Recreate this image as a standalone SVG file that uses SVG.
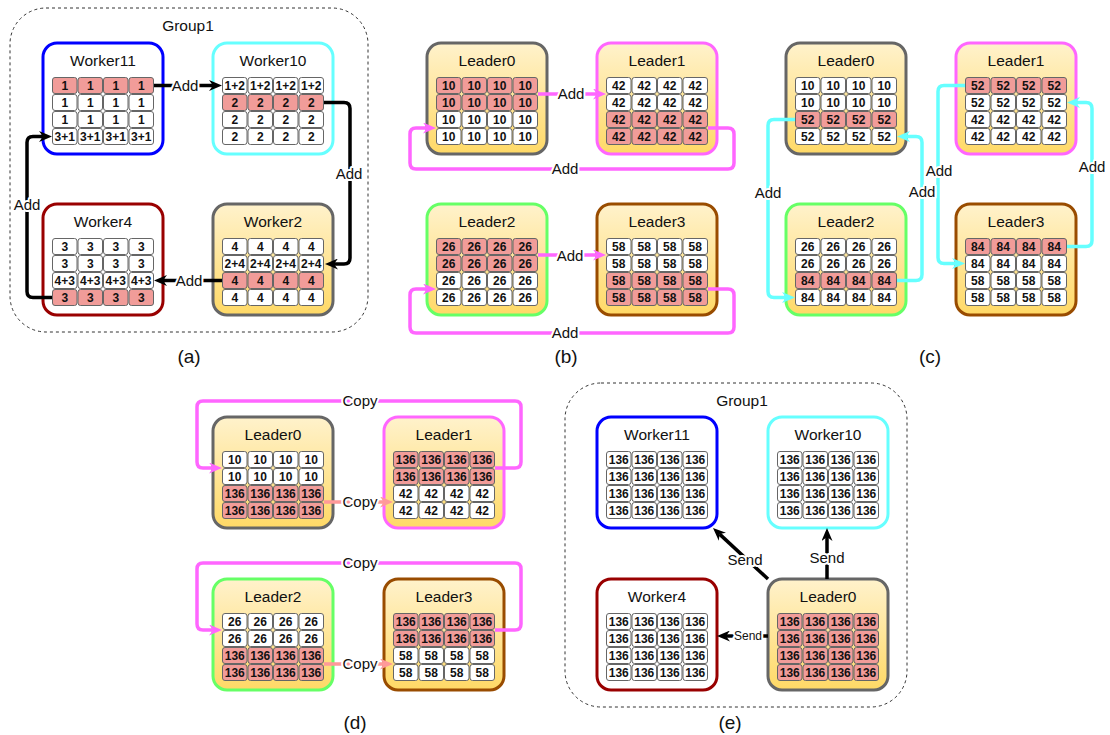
<svg xmlns="http://www.w3.org/2000/svg" xmlns:xlink="http://www.w3.org/1999/xlink" width="1110" height="735" viewBox="0 0 1110 735">
<style>
.grp{fill:none;stroke:#333;stroke-width:1;stroke-dasharray:3 3}
.box{stroke-width:3}
.ttl{font-family:"Liberation Sans",Arial,sans-serif;font-size:15.5px;text-anchor:middle;fill:#111}
.c{font-family:"Liberation Sans",Arial,sans-serif;font-size:12px;font-weight:bold;text-anchor:middle;fill:#111}
.cw{fill:#fff;stroke:#666;stroke-width:1}
.cr{fill:#f19c99;stroke:#666;stroke-width:1}
.lbl{font-family:"Liberation Sans",Arial,sans-serif;font-size:15px;text-anchor:middle;fill:#111;stroke:#fff;stroke-width:4;stroke-linejoin:round;paint-order:stroke}
.sm{font-size:12px}
.cap{font-family:"Liberation Sans",Arial,sans-serif;font-size:19px;text-anchor:middle;fill:#111}
.k{fill:none;stroke:#000;stroke-width:3.5;stroke-linejoin:round}
.m{fill:none;stroke:#ff66ff;stroke-width:3.5;stroke-linejoin:round}
.cy{fill:none;stroke:#66ffff;stroke-width:3.5;stroke-linejoin:round}
.s{fill:none;stroke:#ff9999;stroke-width:3.5;stroke-linejoin:round}
.yl{fill:url(#yg)}
</style>
<defs>
<linearGradient id="yg" x1="0" y1="0" x2="0" y2="1"><stop offset="0" stop-color="#fff2cc"/><stop offset="1" stop-color="#ffd966"/></linearGradient>
<marker id="ak" markerUnits="userSpaceOnUse" viewBox="0 0 13 11" markerWidth="13" markerHeight="11" refX="4" refY="5.5" orient="auto"><path d="M0,0 L13,5.5 L0,11 L4,5.5 Z" fill="#000"/></marker>
<marker id="am" markerUnits="userSpaceOnUse" viewBox="0 0 13 11" markerWidth="13" markerHeight="11" refX="4" refY="5.5" orient="auto"><path d="M0,0 L13,5.5 L0,11 L4,5.5 Z" fill="#ff66ff"/></marker>
<marker id="ac" markerUnits="userSpaceOnUse" viewBox="0 0 13 11" markerWidth="13" markerHeight="11" refX="4" refY="5.5" orient="auto"><path d="M0,0 L13,5.5 L0,11 L4,5.5 Z" fill="#66ffff"/></marker>
<marker id="as" markerUnits="userSpaceOnUse" viewBox="0 0 13 11" markerWidth="13" markerHeight="11" refX="4" refY="5.5" orient="auto"><path d="M0,0 L13,5.5 L0,11 L4,5.5 Z" fill="#ff9999"/></marker>
<g id="rw"><rect class="cw" x="0.5" y="0.5" width="24.5" height="16" rx="2.5"/><rect class="cw" x="26" y="0.5" width="24.5" height="16" rx="2.5"/><rect class="cw" x="51.5" y="0.5" width="24.5" height="16" rx="2.5"/><rect class="cw" x="77" y="0.5" width="24.5" height="16" rx="2.5"/></g>
<g id="rr"><rect class="cr" x="0.5" y="0.5" width="24.5" height="16" rx="2.5"/><rect class="cr" x="26" y="0.5" width="24.5" height="16" rx="2.5"/><rect class="cr" x="51.5" y="0.5" width="24.5" height="16" rx="2.5"/><rect class="cr" x="77" y="0.5" width="24.5" height="16" rx="2.5"/></g>
</defs>
<rect width="1110" height="735" fill="#fff"/>

<!-- Panel (a) -->
<rect class="grp" x="10" y="8" width="358" height="324" rx="36"/>
<text class="ttl" x="188" y="31">Group1</text>

<g id="a-worker11" transform="translate(43,43)">
<rect class="box" width="120" height="111" rx="14" fill="#fff" stroke="#0000ff"/>
<text class="ttl" x="60" y="22.5">Worker11</text>
<g transform="translate(9,34)">
<use href="#rr"/><use href="#rw" y="17"/><use href="#rw" y="34"/><use href="#rw" y="51"/>
<text class="c" y="12.5"><tspan x="12.75">1</tspan><tspan x="38.25">1</tspan><tspan x="63.75">1</tspan><tspan x="89.25">1</tspan></text>
<text class="c" y="29.5"><tspan x="12.75">1</tspan><tspan x="38.25">1</tspan><tspan x="63.75">1</tspan><tspan x="89.25">1</tspan></text>
<text class="c" y="46.5"><tspan x="12.75">1</tspan><tspan x="38.25">1</tspan><tspan x="63.75">1</tspan><tspan x="89.25">1</tspan></text>
<text class="c" y="63.5"><tspan x="12.75">3+1</tspan><tspan x="38.25">3+1</tspan><tspan x="63.75">3+1</tspan><tspan x="89.25">3+1</tspan></text>
</g></g>

<g id="a-worker10" transform="translate(213,43)">
<rect class="box" width="120" height="111" rx="14" fill="#fff" stroke="#66ffff"/>
<text class="ttl" x="60" y="22.5">Worker10</text>
<g transform="translate(9,34)">
<use href="#rw"/><use href="#rr" y="17"/><use href="#rw" y="34"/><use href="#rw" y="51"/>
<text class="c" y="12.5"><tspan x="12.75">1+2</tspan><tspan x="38.25">1+2</tspan><tspan x="63.75">1+2</tspan><tspan x="89.25">1+2</tspan></text>
<text class="c" y="29.5"><tspan x="12.75">2</tspan><tspan x="38.25">2</tspan><tspan x="63.75">2</tspan><tspan x="89.25">2</tspan></text>
<text class="c" y="46.5"><tspan x="12.75">2</tspan><tspan x="38.25">2</tspan><tspan x="63.75">2</tspan><tspan x="89.25">2</tspan></text>
<text class="c" y="63.5"><tspan x="12.75">2</tspan><tspan x="38.25">2</tspan><tspan x="63.75">2</tspan><tspan x="89.25">2</tspan></text>
</g></g>

<g id="a-worker4" transform="translate(43,204)">
<rect class="box" width="120" height="111" rx="14" fill="#fff" stroke="#990000"/>
<text class="ttl" x="60" y="22.5">Worker4</text>
<g transform="translate(9,34)">
<use href="#rw"/><use href="#rw" y="17"/><use href="#rw" y="34"/><use href="#rr" y="51"/>
<text class="c" y="12.5"><tspan x="12.75">3</tspan><tspan x="38.25">3</tspan><tspan x="63.75">3</tspan><tspan x="89.25">3</tspan></text>
<text class="c" y="29.5"><tspan x="12.75">3</tspan><tspan x="38.25">3</tspan><tspan x="63.75">3</tspan><tspan x="89.25">3</tspan></text>
<text class="c" y="46.5"><tspan x="12.75">4+3</tspan><tspan x="38.25">4+3</tspan><tspan x="63.75">4+3</tspan><tspan x="89.25">4+3</tspan></text>
<text class="c" y="63.5"><tspan x="12.75">3</tspan><tspan x="38.25">3</tspan><tspan x="63.75">3</tspan><tspan x="89.25">3</tspan></text>
</g></g>

<g id="a-worker2" transform="translate(213,204)">
<rect class="box yl" width="120" height="111" rx="14" stroke="#666666"/>
<text class="ttl" x="60" y="22.5">Worker2</text>
<g transform="translate(9,34)">
<use href="#rw"/><use href="#rw" y="17"/><use href="#rr" y="34"/><use href="#rw" y="51"/>
<text class="c" y="12.5"><tspan x="12.75">4</tspan><tspan x="38.25">4</tspan><tspan x="63.75">4</tspan><tspan x="89.25">4</tspan></text>
<text class="c" y="29.5"><tspan x="12.75">2+4</tspan><tspan x="38.25">2+4</tspan><tspan x="63.75">2+4</tspan><tspan x="89.25">2+4</tspan></text>
<text class="c" y="46.5"><tspan x="12.75">4</tspan><tspan x="38.25">4</tspan><tspan x="63.75">4</tspan><tspan x="89.25">4</tspan></text>
<text class="c" y="63.5"><tspan x="12.75">4</tspan><tspan x="38.25">4</tspan><tspan x="63.75">4</tspan><tspan x="89.25">4</tspan></text>
</g></g>
<text class="cap" x="189" y="363">(a)</text>

<!-- Panel (b) -->
<g id="b-leader0" transform="translate(427,43)">
<rect class="box yl" width="120" height="111" rx="14" stroke="#666666"/>
<text class="ttl" x="60" y="22.5">Leader0</text>
<g transform="translate(9,34)">
<use href="#rr"/><use href="#rr" y="17"/><use href="#rw" y="34"/><use href="#rw" y="51"/>
<text class="c" y="12.5"><tspan x="12.75">10</tspan><tspan x="38.25">10</tspan><tspan x="63.75">10</tspan><tspan x="89.25">10</tspan></text>
<text class="c" y="29.5"><tspan x="12.75">10</tspan><tspan x="38.25">10</tspan><tspan x="63.75">10</tspan><tspan x="89.25">10</tspan></text>
<text class="c" y="46.5"><tspan x="12.75">10</tspan><tspan x="38.25">10</tspan><tspan x="63.75">10</tspan><tspan x="89.25">10</tspan></text>
<text class="c" y="63.5"><tspan x="12.75">10</tspan><tspan x="38.25">10</tspan><tspan x="63.75">10</tspan><tspan x="89.25">10</tspan></text>
</g></g>

<g id="b-leader1" transform="translate(597,43)">
<rect class="box yl" width="120" height="111" rx="14" stroke="#ff66ff"/>
<text class="ttl" x="60" y="22.5">Leader1</text>
<g transform="translate(9,34)">
<use href="#rw"/><use href="#rw" y="17"/><use href="#rr" y="34"/><use href="#rr" y="51"/>
<text class="c" y="12.5"><tspan x="12.75">42</tspan><tspan x="38.25">42</tspan><tspan x="63.75">42</tspan><tspan x="89.25">42</tspan></text>
<text class="c" y="29.5"><tspan x="12.75">42</tspan><tspan x="38.25">42</tspan><tspan x="63.75">42</tspan><tspan x="89.25">42</tspan></text>
<text class="c" y="46.5"><tspan x="12.75">42</tspan><tspan x="38.25">42</tspan><tspan x="63.75">42</tspan><tspan x="89.25">42</tspan></text>
<text class="c" y="63.5"><tspan x="12.75">42</tspan><tspan x="38.25">42</tspan><tspan x="63.75">42</tspan><tspan x="89.25">42</tspan></text>
</g></g>

<g id="b-leader2" transform="translate(427,204)">
<rect class="box yl" width="120" height="111" rx="14" stroke="#66ff66"/>
<text class="ttl" x="60" y="22.5">Leader2</text>
<g transform="translate(9,34)">
<use href="#rr"/><use href="#rr" y="17"/><use href="#rw" y="34"/><use href="#rw" y="51"/>
<text class="c" y="12.5"><tspan x="12.75">26</tspan><tspan x="38.25">26</tspan><tspan x="63.75">26</tspan><tspan x="89.25">26</tspan></text>
<text class="c" y="29.5"><tspan x="12.75">26</tspan><tspan x="38.25">26</tspan><tspan x="63.75">26</tspan><tspan x="89.25">26</tspan></text>
<text class="c" y="46.5"><tspan x="12.75">26</tspan><tspan x="38.25">26</tspan><tspan x="63.75">26</tspan><tspan x="89.25">26</tspan></text>
<text class="c" y="63.5"><tspan x="12.75">26</tspan><tspan x="38.25">26</tspan><tspan x="63.75">26</tspan><tspan x="89.25">26</tspan></text>
</g></g>

<g id="b-leader3" transform="translate(597,204)">
<rect class="box yl" width="120" height="111" rx="14" stroke="#994c00"/>
<text class="ttl" x="60" y="22.5">Leader3</text>
<g transform="translate(9,34)">
<use href="#rw"/><use href="#rw" y="17"/><use href="#rr" y="34"/><use href="#rr" y="51"/>
<text class="c" y="12.5"><tspan x="12.75">58</tspan><tspan x="38.25">58</tspan><tspan x="63.75">58</tspan><tspan x="89.25">58</tspan></text>
<text class="c" y="29.5"><tspan x="12.75">58</tspan><tspan x="38.25">58</tspan><tspan x="63.75">58</tspan><tspan x="89.25">58</tspan></text>
<text class="c" y="46.5"><tspan x="12.75">58</tspan><tspan x="38.25">58</tspan><tspan x="63.75">58</tspan><tspan x="89.25">58</tspan></text>
<text class="c" y="63.5"><tspan x="12.75">58</tspan><tspan x="38.25">58</tspan><tspan x="63.75">58</tspan><tspan x="89.25">58</tspan></text>
</g></g>
<text class="cap" x="566" y="363">(b)</text>

<!-- Panel (c) -->
<g id="c-leader0" transform="translate(786,43)">
<rect class="box yl" width="120" height="111" rx="14" stroke="#666666"/>
<text class="ttl" x="60" y="22.5">Leader0</text>
<g transform="translate(9,34)">
<use href="#rw"/><use href="#rw" y="17"/><use href="#rr" y="34"/><use href="#rw" y="51"/>
<text class="c" y="12.5"><tspan x="12.75">10</tspan><tspan x="38.25">10</tspan><tspan x="63.75">10</tspan><tspan x="89.25">10</tspan></text>
<text class="c" y="29.5"><tspan x="12.75">10</tspan><tspan x="38.25">10</tspan><tspan x="63.75">10</tspan><tspan x="89.25">10</tspan></text>
<text class="c" y="46.5"><tspan x="12.75">52</tspan><tspan x="38.25">52</tspan><tspan x="63.75">52</tspan><tspan x="89.25">52</tspan></text>
<text class="c" y="63.5"><tspan x="12.75">52</tspan><tspan x="38.25">52</tspan><tspan x="63.75">52</tspan><tspan x="89.25">52</tspan></text>
</g></g>

<g id="c-leader1" transform="translate(956,43)">
<rect class="box yl" width="120" height="111" rx="14" stroke="#ff66ff"/>
<text class="ttl" x="60" y="22.5">Leader1</text>
<g transform="translate(9,34)">
<use href="#rr"/><use href="#rw" y="17"/><use href="#rw" y="34"/><use href="#rw" y="51"/>
<text class="c" y="12.5"><tspan x="12.75">52</tspan><tspan x="38.25">52</tspan><tspan x="63.75">52</tspan><tspan x="89.25">52</tspan></text>
<text class="c" y="29.5"><tspan x="12.75">52</tspan><tspan x="38.25">52</tspan><tspan x="63.75">52</tspan><tspan x="89.25">52</tspan></text>
<text class="c" y="46.5"><tspan x="12.75">42</tspan><tspan x="38.25">42</tspan><tspan x="63.75">42</tspan><tspan x="89.25">42</tspan></text>
<text class="c" y="63.5"><tspan x="12.75">42</tspan><tspan x="38.25">42</tspan><tspan x="63.75">42</tspan><tspan x="89.25">42</tspan></text>
</g></g>

<g id="c-leader2" transform="translate(786,204)">
<rect class="box yl" width="120" height="111" rx="14" stroke="#66ff66"/>
<text class="ttl" x="60" y="22.5">Leader2</text>
<g transform="translate(9,34)">
<use href="#rw"/><use href="#rw" y="17"/><use href="#rr" y="34"/><use href="#rw" y="51"/>
<text class="c" y="12.5"><tspan x="12.75">26</tspan><tspan x="38.25">26</tspan><tspan x="63.75">26</tspan><tspan x="89.25">26</tspan></text>
<text class="c" y="29.5"><tspan x="12.75">26</tspan><tspan x="38.25">26</tspan><tspan x="63.75">26</tspan><tspan x="89.25">26</tspan></text>
<text class="c" y="46.5"><tspan x="12.75">84</tspan><tspan x="38.25">84</tspan><tspan x="63.75">84</tspan><tspan x="89.25">84</tspan></text>
<text class="c" y="63.5"><tspan x="12.75">84</tspan><tspan x="38.25">84</tspan><tspan x="63.75">84</tspan><tspan x="89.25">84</tspan></text>
</g></g>

<g id="c-leader3" transform="translate(956,204)">
<rect class="box yl" width="120" height="111" rx="14" stroke="#994c00"/>
<text class="ttl" x="60" y="22.5">Leader3</text>
<g transform="translate(9,34)">
<use href="#rr"/><use href="#rw" y="17"/><use href="#rw" y="34"/><use href="#rw" y="51"/>
<text class="c" y="12.5"><tspan x="12.75">84</tspan><tspan x="38.25">84</tspan><tspan x="63.75">84</tspan><tspan x="89.25">84</tspan></text>
<text class="c" y="29.5"><tspan x="12.75">84</tspan><tspan x="38.25">84</tspan><tspan x="63.75">84</tspan><tspan x="89.25">84</tspan></text>
<text class="c" y="46.5"><tspan x="12.75">58</tspan><tspan x="38.25">58</tspan><tspan x="63.75">58</tspan><tspan x="89.25">58</tspan></text>
<text class="c" y="63.5"><tspan x="12.75">58</tspan><tspan x="38.25">58</tspan><tspan x="63.75">58</tspan><tspan x="89.25">58</tspan></text>
</g></g>
<text class="cap" x="930" y="363">(c)</text>

<!-- Panel (d) -->
<g id="d-leader0" transform="translate(213,417)">
<rect class="box yl" width="120" height="111" rx="14" stroke="#666666"/>
<text class="ttl" x="60" y="22.5">Leader0</text>
<g transform="translate(9,34)">
<use href="#rw"/><use href="#rw" y="17"/><use href="#rr" y="34"/><use href="#rr" y="51"/>
<text class="c" y="12.5"><tspan x="12.75">10</tspan><tspan x="38.25">10</tspan><tspan x="63.75">10</tspan><tspan x="89.25">10</tspan></text>
<text class="c" y="29.5"><tspan x="12.75">10</tspan><tspan x="38.25">10</tspan><tspan x="63.75">10</tspan><tspan x="89.25">10</tspan></text>
<text class="c" y="46.5"><tspan x="12.75">136</tspan><tspan x="38.25">136</tspan><tspan x="63.75">136</tspan><tspan x="89.25">136</tspan></text>
<text class="c" y="63.5"><tspan x="12.75">136</tspan><tspan x="38.25">136</tspan><tspan x="63.75">136</tspan><tspan x="89.25">136</tspan></text>
</g></g>

<g id="d-leader1" transform="translate(384,417)">
<rect class="box yl" width="120" height="111" rx="14" stroke="#ff66ff"/>
<text class="ttl" x="60" y="22.5">Leader1</text>
<g transform="translate(9,34)">
<use href="#rr"/><use href="#rr" y="17"/><use href="#rw" y="34"/><use href="#rw" y="51"/>
<text class="c" y="12.5"><tspan x="12.75">136</tspan><tspan x="38.25">136</tspan><tspan x="63.75">136</tspan><tspan x="89.25">136</tspan></text>
<text class="c" y="29.5"><tspan x="12.75">136</tspan><tspan x="38.25">136</tspan><tspan x="63.75">136</tspan><tspan x="89.25">136</tspan></text>
<text class="c" y="46.5"><tspan x="12.75">42</tspan><tspan x="38.25">42</tspan><tspan x="63.75">42</tspan><tspan x="89.25">42</tspan></text>
<text class="c" y="63.5"><tspan x="12.75">42</tspan><tspan x="38.25">42</tspan><tspan x="63.75">42</tspan><tspan x="89.25">42</tspan></text>
</g></g>

<g id="d-leader2" transform="translate(213,579)">
<rect class="box yl" width="120" height="111" rx="14" stroke="#66ff66"/>
<text class="ttl" x="60" y="22.5">Leader2</text>
<g transform="translate(9,34)">
<use href="#rw"/><use href="#rw" y="17"/><use href="#rr" y="34"/><use href="#rr" y="51"/>
<text class="c" y="12.5"><tspan x="12.75">26</tspan><tspan x="38.25">26</tspan><tspan x="63.75">26</tspan><tspan x="89.25">26</tspan></text>
<text class="c" y="29.5"><tspan x="12.75">26</tspan><tspan x="38.25">26</tspan><tspan x="63.75">26</tspan><tspan x="89.25">26</tspan></text>
<text class="c" y="46.5"><tspan x="12.75">136</tspan><tspan x="38.25">136</tspan><tspan x="63.75">136</tspan><tspan x="89.25">136</tspan></text>
<text class="c" y="63.5"><tspan x="12.75">136</tspan><tspan x="38.25">136</tspan><tspan x="63.75">136</tspan><tspan x="89.25">136</tspan></text>
</g></g>

<g id="d-leader3" transform="translate(384,579)">
<rect class="box yl" width="120" height="111" rx="14" stroke="#994c00"/>
<text class="ttl" x="60" y="22.5">Leader3</text>
<g transform="translate(9,34)">
<use href="#rr"/><use href="#rr" y="17"/><use href="#rw" y="34"/><use href="#rw" y="51"/>
<text class="c" y="12.5"><tspan x="12.75">136</tspan><tspan x="38.25">136</tspan><tspan x="63.75">136</tspan><tspan x="89.25">136</tspan></text>
<text class="c" y="29.5"><tspan x="12.75">136</tspan><tspan x="38.25">136</tspan><tspan x="63.75">136</tspan><tspan x="89.25">136</tspan></text>
<text class="c" y="46.5"><tspan x="12.75">58</tspan><tspan x="38.25">58</tspan><tspan x="63.75">58</tspan><tspan x="89.25">58</tspan></text>
<text class="c" y="63.5"><tspan x="12.75">58</tspan><tspan x="38.25">58</tspan><tspan x="63.75">58</tspan><tspan x="89.25">58</tspan></text>
</g></g>
<text class="cap" x="355" y="729">(d)</text>

<!-- Panel (e) -->
<rect class="grp" x="565" y="383" width="342" height="324" rx="36"/>
<text class="ttl" x="742" y="406">Group1</text>

<g id="e-worker11" transform="translate(597,417)">
<rect class="box" width="120" height="111" rx="14" fill="#fff" stroke="#0000ff"/>
<text class="ttl" x="60" y="22.5">Worker11</text>
<g transform="translate(9,34)">
<use href="#rw"/><use href="#rw" y="17"/><use href="#rw" y="34"/><use href="#rw" y="51"/>
<text class="c" y="12.5"><tspan x="12.75">136</tspan><tspan x="38.25">136</tspan><tspan x="63.75">136</tspan><tspan x="89.25">136</tspan></text>
<text class="c" y="29.5"><tspan x="12.75">136</tspan><tspan x="38.25">136</tspan><tspan x="63.75">136</tspan><tspan x="89.25">136</tspan></text>
<text class="c" y="46.5"><tspan x="12.75">136</tspan><tspan x="38.25">136</tspan><tspan x="63.75">136</tspan><tspan x="89.25">136</tspan></text>
<text class="c" y="63.5"><tspan x="12.75">136</tspan><tspan x="38.25">136</tspan><tspan x="63.75">136</tspan><tspan x="89.25">136</tspan></text>
</g></g>

<g id="e-worker10" transform="translate(768,417)">
<rect class="box" width="120" height="111" rx="14" fill="#fff" stroke="#66ffff"/>
<text class="ttl" x="60" y="22.5">Worker10</text>
<g transform="translate(9,34)">
<use href="#rw"/><use href="#rw" y="17"/><use href="#rw" y="34"/><use href="#rw" y="51"/>
<text class="c" y="12.5"><tspan x="12.75">136</tspan><tspan x="38.25">136</tspan><tspan x="63.75">136</tspan><tspan x="89.25">136</tspan></text>
<text class="c" y="29.5"><tspan x="12.75">136</tspan><tspan x="38.25">136</tspan><tspan x="63.75">136</tspan><tspan x="89.25">136</tspan></text>
<text class="c" y="46.5"><tspan x="12.75">136</tspan><tspan x="38.25">136</tspan><tspan x="63.75">136</tspan><tspan x="89.25">136</tspan></text>
<text class="c" y="63.5"><tspan x="12.75">136</tspan><tspan x="38.25">136</tspan><tspan x="63.75">136</tspan><tspan x="89.25">136</tspan></text>
</g></g>

<g id="e-worker4" transform="translate(597,579)">
<rect class="box" width="120" height="111" rx="14" fill="#fff" stroke="#990000"/>
<text class="ttl" x="60" y="22.5">Worker4</text>
<g transform="translate(9,34)">
<use href="#rw"/><use href="#rw" y="17"/><use href="#rw" y="34"/><use href="#rw" y="51"/>
<text class="c" y="12.5"><tspan x="12.75">136</tspan><tspan x="38.25">136</tspan><tspan x="63.75">136</tspan><tspan x="89.25">136</tspan></text>
<text class="c" y="29.5"><tspan x="12.75">136</tspan><tspan x="38.25">136</tspan><tspan x="63.75">136</tspan><tspan x="89.25">136</tspan></text>
<text class="c" y="46.5"><tspan x="12.75">136</tspan><tspan x="38.25">136</tspan><tspan x="63.75">136</tspan><tspan x="89.25">136</tspan></text>
<text class="c" y="63.5"><tspan x="12.75">136</tspan><tspan x="38.25">136</tspan><tspan x="63.75">136</tspan><tspan x="89.25">136</tspan></text>
</g></g>

<g id="e-leader0" transform="translate(768,579)">
<rect class="box yl" width="120" height="111" rx="14" stroke="#666666"/>
<text class="ttl" x="60" y="22.5">Leader0</text>
<g transform="translate(9,34)">
<use href="#rr"/><use href="#rr" y="17"/><use href="#rr" y="34"/><use href="#rr" y="51"/>
<text class="c" y="12.5"><tspan x="12.75">136</tspan><tspan x="38.25">136</tspan><tspan x="63.75">136</tspan><tspan x="89.25">136</tspan></text>
<text class="c" y="29.5"><tspan x="12.75">136</tspan><tspan x="38.25">136</tspan><tspan x="63.75">136</tspan><tspan x="89.25">136</tspan></text>
<text class="c" y="46.5"><tspan x="12.75">136</tspan><tspan x="38.25">136</tspan><tspan x="63.75">136</tspan><tspan x="89.25">136</tspan></text>
<text class="c" y="63.5"><tspan x="12.75">136</tspan><tspan x="38.25">136</tspan><tspan x="63.75">136</tspan><tspan x="89.25">136</tspan></text>
</g></g>
<text class="cap" x="730" y="729">(e)</text>

<!-- Connectors -->
<g id="connectors">
<!-- (a) -->
<path class="k" marker-end="url(#ak)" d="M154,85.5 H213"/>
<path class="k" marker-end="url(#ak)" d="M324,102.5 H344 Q350,102.5 350,108.5 V258 Q350,264 344,264 H334"/>
<path class="k" marker-end="url(#ak)" d="M222,280.5 H163"/>
<path class="k" marker-end="url(#ak)" d="M52,297.5 H33 Q27,297.5 27,291.5 V142.5 Q27,136.5 33,136.5 H43"/>
<text class="lbl" x="185" y="91">Add</text>
<text class="lbl" x="349" y="179">Add</text>
<text class="lbl" x="189" y="286">Add</text>
<text class="lbl" x="27" y="210">Add</text>
<!-- (b) -->
<path class="m" marker-end="url(#am)" d="M538,94 H597"/>
<path class="m" marker-end="url(#am)" d="M708,128 H728 Q734,128 734,134 V163 Q734,169 728,169 H416 Q410,169 410,163 V134 Q410,128 416,128 H427"/>
<path class="m" marker-end="url(#am)" d="M538,255 H597"/>
<path class="m" marker-end="url(#am)" d="M708,289 H728 Q734,289 734,295 V327 Q734,333 728,333 H416 Q410,333 410,327 V295 Q410,289 416,289 H427"/>
<text class="lbl" x="571" y="99">Add</text>
<text class="lbl" x="565" y="174">Add</text>
<text class="lbl" x="570" y="261">Add</text>
<text class="lbl" x="565" y="338">Add</text>
<!-- (c) -->
<path class="cy" marker-end="url(#ac)" d="M795,119.5 H774 Q768,119.5 768,125.5 V291.5 Q768,297.5 774,297.5 H786"/>
<path class="cy" marker-end="url(#ac)" d="M897,280.5 H916 Q922,280.5 922,274.5 V142.5 Q922,136.5 916,136.5 H906"/>
<path class="cy" marker-end="url(#ac)" d="M965,85.5 H944 Q938,85.5 938,91.5 V257.5 Q938,263.5 944,263.5 H956"/>
<path class="cy" marker-end="url(#ac)" d="M1067,246.5 H1086 Q1092,246.5 1092,240.5 V108.5 Q1092,102.5 1086,102.5 H1076"/>
<text class="lbl" x="768" y="198">Add</text>
<text class="lbl" x="922" y="197">Add</text>
<text class="lbl" x="939" y="176">Add</text>
<text class="lbl" x="1092" y="172">Add</text>
<!-- (d) -->
<path class="m" marker-end="url(#am)" d="M495,468 H515 Q521,468 521,462 V407 Q521,401 515,401 H203 Q197,401 197,407 V462 Q197,468 203,468 H213"/>
<path class="s" marker-end="url(#as)" d="M324,502 H384"/>
<path class="m" marker-end="url(#am)" d="M495,630 H515 Q521,630 521,624 V569 Q521,563 515,563 H203 Q197,563 197,569 V624 Q197,630 203,630 H213"/>
<path class="s" marker-end="url(#as)" d="M324,664 H384"/>
<text class="lbl" x="360" y="406">Copy</text>
<text class="lbl" x="360" y="507">Copy</text>
<text class="lbl" x="360" y="568">Copy</text>
<text class="lbl" x="360" y="669">Copy</text>
<!-- (e) -->
<path class="k" marker-end="url(#ak)" d="M768,579 L719.6,534.1"/>
<path class="k" marker-end="url(#ak)" d="M827,579 V537"/>
<path class="k" marker-end="url(#ak)" d="M768,636 H726"/>
<text class="lbl" x="745" y="565">Send</text>
<text class="lbl" x="827" y="563">Send</text>
<text class="lbl sm" x="748" y="640">Send</text>
</g>
</svg>
